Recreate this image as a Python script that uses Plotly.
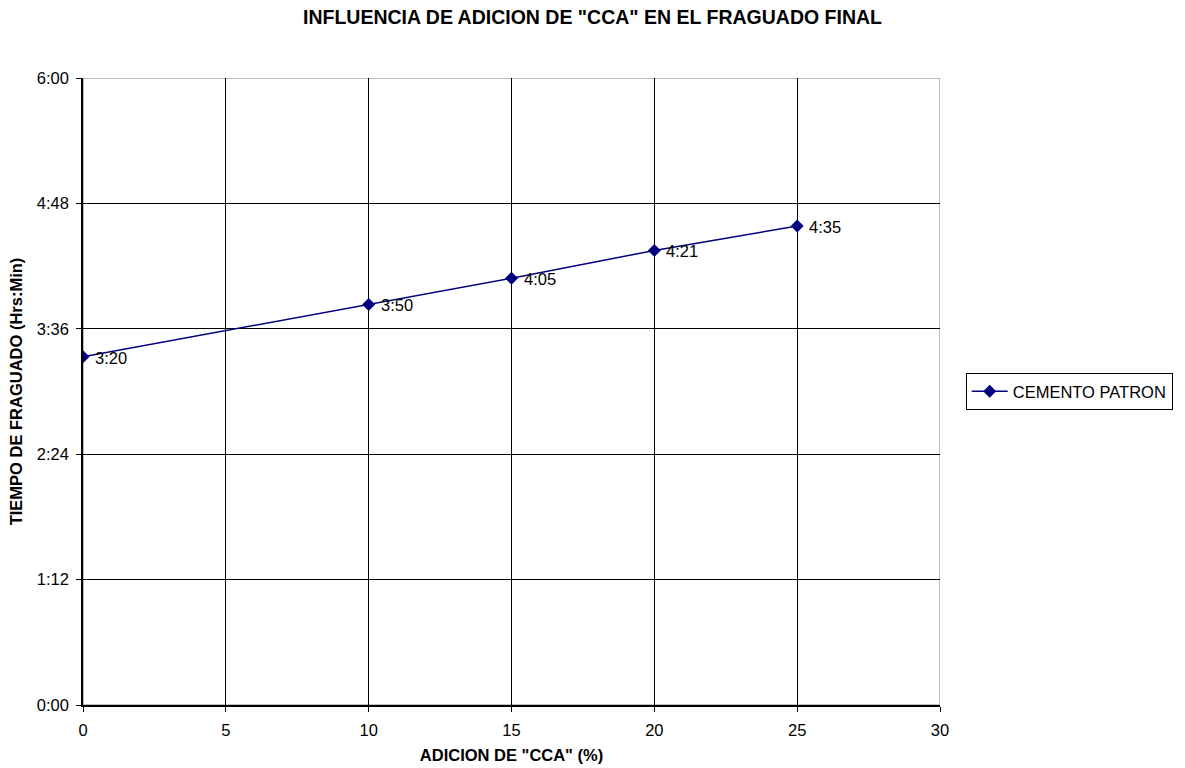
import plotly.graph_objects as go

# Adición de CCA (%) y tiempo de fraguado final (Hrs:Min)
adicion = [0, 10, 15, 20, 25]
fraguado = ["3:20", "3:50", "4:05", "4:21", "4:35"]
serie = "CEMENTO PATRON"

x_ticks = [0, 5, 10, 15, 20, 25, 30]
y_tick_labels = ["0:00", "1:12", "2:24", "3:36", "4:48", "6:00"]


def a_minutos(hm):
    h, m = hm.split(":")
    return int(h) * 60 + int(m)


minutos = [a_minutos(t) for t in fraguado]
y_tick_vals = [a_minutos(t) for t in y_tick_labels]

NAVY = "#000080"
FONT = "Liberation Sans, Arial, sans-serif"
TXT = 16.5

fig = go.Figure()
fig.add_trace(go.Scatter(
    x=adicion, y=minutos, mode="lines+markers", name=serie,
    line=dict(color=NAVY, width=1.5),
    marker=dict(symbol="diamond", size=10, color=NAVY),
    hoverinfo="skip",
))

for xv, yv, lab in zip(adicion, minutos, fraguado):
    fig.add_annotation(
        x=xv, y=yv, text=lab, showarrow=False, xanchor="left", yanchor="middle",
        xshift=10, yshift=-1, font=dict(size=TXT, color="black", family=FONT),
    )

# marco gris del área de trazado
fig.add_shape(type="rect", xref="x", yref="y", x0=0, x1=30, y0=0, y1=360,
              line=dict(color="#808080", width=1), layer="below")

fig.update_layout(
    width=1185, height=768,
    margin=dict(l=83, r=245, t=78, b=63, autoexpand=False),
    paper_bgcolor="white", plot_bgcolor="white",
    font=dict(family=FONT, size=TXT, color="black"),
    title=dict(
        text="<b>INFLUENCIA DE ADICION DE \"CCA\" EN EL FRAGUADO FINAL</b>",
        x=0.5, xref="container", xanchor="center", y=0.978, yanchor="middle",
        font=dict(size=19.5, family=FONT),
    ),
    showlegend=True,
    legend=dict(
        x=1.03, xanchor="left", y=0.5, yanchor="middle",
        bordercolor="black", borderwidth=1, bgcolor="white",
        font=dict(size=TXT, family=FONT),
        itemwidth=36, tracegroupgap=0,
    ),
)

fig.update_xaxes(
    range=[0, 30], tickvals=x_ticks, ticktext=[str(v) for v in x_ticks],
    showgrid=True, gridcolor="black", gridwidth=1,
    showline=True, linecolor="black", linewidth=1.5,
    ticks="outside", ticklen=5, tickcolor="black", ticklabelstandoff=4,
    zeroline=False, tickfont=dict(size=TXT), automargin=False,
    title=dict(text="<b>ADICION DE \"CCA\" (%)</b>", font=dict(size=TXT), standoff=12),
)
fig.update_yaxes(
    range=[0, 360], tickvals=y_tick_vals, ticktext=y_tick_labels,
    showgrid=True, gridcolor="black", gridwidth=1,
    showline=True, linecolor="black", linewidth=1.5,
    ticks="outside", ticklen=5, tickcolor="black", ticklabelstandoff=4,
    zeroline=False, tickfont=dict(size=TXT), automargin=False,
    title=dict(text="<b>TIEMPO DE FRAGUADO (Hrs:Min)</b>", font=dict(size=TXT), standoff=10),
)

fig.write_html("out.html")
